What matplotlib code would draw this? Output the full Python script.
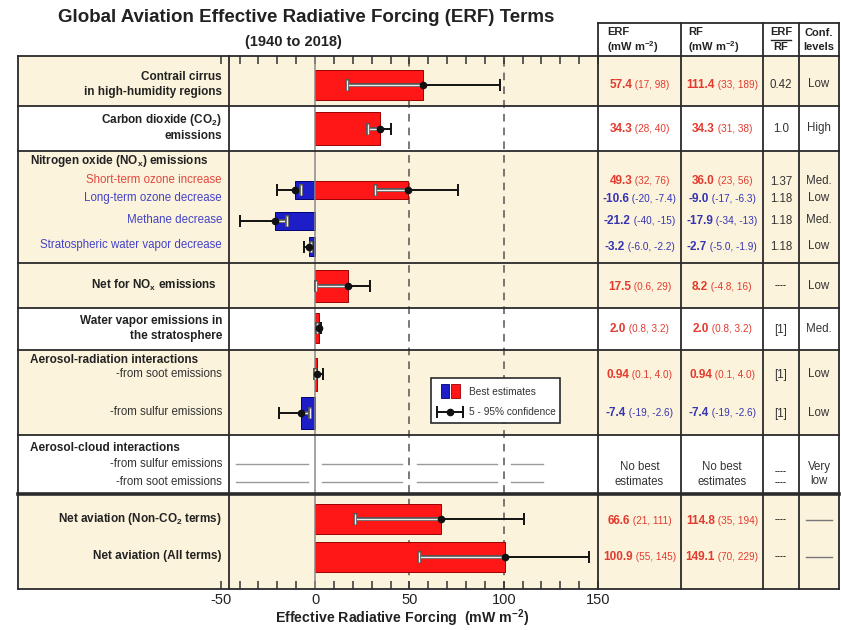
import matplotlib
matplotlib.use("Agg")
import matplotlib.pyplot as plt
from matplotlib.patches import Rectangle

plt.rcParams["font.family"] = "Liberation Sans"
plt.rcParams["mathtext.fontset"] = "custom"
plt.rcParams["mathtext.rm"] = "Liberation Sans"
plt.rcParams["mathtext.bf"] = "Liberation Sans:bold"
plt.rcParams["mathtext.it"] = "Liberation Sans:italic"
plt.rcParams["axes.unicode_minus"] = False

# --- data (mW m-2), best estimate with 5-95% range, as printed ---
terms = ["Contrail cirrus", "CO2", "Short-term ozone", "Long-term ozone", "Methane",
         "Strat. water vapor (NOx)", "Net NOx", "Water vapor", "Soot", "Sulfur",
         "Net non-CO2", "Net all"]
erf = ["57.4", "34.3", "49.3", "-10.6", "-21.2", "-3.2", "17.5", "2.0", "0.94", "-7.4", "66.6", "100.9"]
erf_lo = ["17", "28", "32", "-20", "-40", "-6.0", "0.6", "0.8", "0.1", "-19", "21", "55"]
erf_hi = ["98", "40", "76", "-7.4", "-15", "-2.2", "29", "3.2", "4.0", "-2.6", "111", "145"]
rf = ["111.4", "34.3", "36.0", "-9.0", "-17.9", "-2.7", "8.2", "2.0", "0.94", "-7.4", "114.8", "149.1"]
rf_lo = ["33", "31", "23", "-17", "-34", "-5.0", "-4.8", "0.8", "0.1", "-19", "35", "70"]
rf_hi = ["189", "38", "56", "-6.3", "-13", "-1.9", "16", "3.2", "4.0", "-2.6", "194", "229"]
ratio = ["0.42", "1.0", "1.37", "1.18", "1.18", "1.18", "----", "[1]", "[1]", "[1]", "----", "----"]
conf = ["Low", "High", "Med.", "Low", "Med.", "Low", "Low", "Med.", "Low", "Low", None, None]
no_estimate_span = (-42, 121)   # aerosol-cloud: no best estimates

# --- layout in figure pixels (y measured from top) ---
W, H = 841, 630
bar_y = [85, 128.5, 190, 190, 221, 246.5, 286, 328, 374, 413, 519, 557]
bar_h = [30, 33, 18, 18, 18, 19, 32, 30, 33, 32, 30, 30]
text_y = [84, 128, 181, 198, 220, 246, 286, 329, 374, 413, 520, 557]
row_edges = [55.5, 106, 151, 263, 307.5, 350, 435, 494, 589]
row_fill = ["cream", "white", "cream", "cream", "white", "cream", "white", "cream"]
col_x = [598, 681, 763, 799, 839]
left_x, split_x = 18, 229
cream = "#FCF3DC"
red, blue = "#FF1616", "#1E1EC8"
red_txt, blue_txt = "#E23A2E", "#3434B4"
ink = "#222222"

fig = plt.figure(figsize=(W / 100, H / 100), dpi=100)

bg = fig.add_axes([0, 0, 1, 1], zorder=0)
bg.set_xlim(0, W)
bg.set_ylim(H, 0)
bg.axis("off")

top, bottom = row_edges[0], row_edges[-1]
ax = fig.add_axes([left_x / W, (H - bottom) / H, (col_x[0] - left_x) / W, (bottom - top) / H], zorder=1)
ax.patch.set_alpha(0)
ax.set_xlim(-157.5, 150)
ax.set_ylim(bottom, top)

fg = fig.add_axes([0, 0, 1, 1], zorder=2)
fg.set_xlim(0, W)
fg.set_ylim(H, 0)
fg.axis("off")

# row backgrounds
for y0, y1, f in zip(row_edges[:-1], row_edges[1:], row_fill):
    if f == "cream":
        bg.add_patch(Rectangle((left_x, y0), col_x[-1] - left_x, y1 - y0, color=cream, lw=0))

# gridlines
ax.axvline(50, color="#555555", lw=1.1, ls=(0, (5, 4)), zorder=0.5)
ax.axvline(100, color="#555555", lw=1.1, ls=(0, (5, 4)), zorder=0.5)
ax.axvline(0, color="#8a8a8a", lw=1.1, zorder=3)

# bars
vals = [float(v) for v in erf]
ax.barh(bar_y, vals, height=bar_h, color=[red if v > 0 else blue for v in vals],
        edgecolor=["#9a0000" if v > 0 else "#000070" for v in vals], lw=0.7, zorder=2)


def draw_ci(y, best, lo, hi):
    a, b = sorted((0.0, best))
    in_lo, in_hi = max(lo, a), min(hi, b)
    for s0, s1 in [(lo, in_lo), (in_hi, hi)]:
        if s1 > s0:
            ax.plot([s0, s1], [y, y], color="#111111", lw=1.4, zorder=5, solid_capstyle="butt")
    if in_hi > in_lo:
        ax.plot([in_lo, in_hi], [y, y], color="#555555", lw=2.8, zorder=5, solid_capstyle="butt")
        ax.plot([in_lo, in_hi], [y, y], color="#eeeeee", lw=1.0, zorder=5.1, solid_capstyle="butt")
    for end in (lo, hi):
        if a < end < b:
            ax.plot([end], [y], marker="|", ms=9, mew=2.8, color="#555555", zorder=5.2)
            ax.plot([end], [y], marker="|", ms=7.5, mew=1.0, color="#eeeeee", zorder=5.3)
        else:
            ax.plot([end], [y], marker="|", ms=9, mew=1.4, color="#111111", zorder=5.2)
    ax.plot([best], [y], marker="o", ms=4.5, color="#111111", zorder=6)


for y, v, lo, hi in zip(bar_y, erf, erf_lo, erf_hi):
    draw_ci(y, float(v), float(lo), float(hi))

# aerosol-cloud: dashed guide broken at the gridlines
gap = 3.8
cuts = [no_estimate_span[0]]
for g in (0, 50, 100):
    cuts += [g - gap, g + gap]
cuts.append(no_estimate_span[1])
for yy in (464, 482):
    for s0, s1 in zip(cuts[0::2], cuts[1::2]):
        ax.plot([s0, s1], [yy, yy], color="#9a9a9a", lw=1.0, zorder=1)

# axis ticks
for s in ax.spines.values():
    s.set_visible(False)
ax.set_yticks([])
ax.set_xticks([-50, 0, 50, 100, 150])
ax.set_xticks(range(-50, 151, 10), minor=True)
ax.tick_params(axis="x", which="both", direction="in", top=True, bottom=True,
               length=6, width=1.1, color="#333333", labelsize=10.5, pad=3, labelcolor=ink)

# frame and table lines
lc, lw = "#2a2a2a", 1.3
for y in row_edges:
    fg.plot([left_x, col_x[-1]], [y, y], color=lc, lw=2.6 if y == 494 else lw)
for x in [left_x, split_x] + col_x:
    fg.plot([x, x], [top, bottom], color=lc, lw=lw)
header_top = 23
fg.plot([col_x[0], col_x[-1]], [header_top, header_top], color=lc, lw=lw)
for x in col_x:
    fg.plot([x, x], [header_top, top], color=lc, lw=lw)

# titles
fg.text(306, 18, "Global Aviation Effective Radiative Forcing (ERF) Terms", ha="center", va="center",
        size=13.5, weight="bold", color=ink)
fg.text(293, 42, "(1940 to 2018)", ha="center", va="center", size=10.5, weight="bold", color=ink)
fg.text(402, 618, r"Effective Radiative Forcing  (mW m$^{\mathbf{-2}}$)", ha="center", va="center",
        size=10.2, weight="bold", color=ink)

# table header
hs = 8
fg.text(607, 32, "ERF", size=hs, weight="bold", va="center", color=ink)
fg.text(607, 47, r"(mW m$^{\mathbf{-2}}$)", size=hs, weight="bold", va="center", color=ink)
fg.text(688, 32, "RF", size=hs, weight="bold", va="center", color=ink)
fg.text(688, 47, r"(mW m$^{\mathbf{-2}}$)", size=hs, weight="bold", va="center", color=ink)
fg.text(781, 32, "ERF", size=hs, weight="bold", ha="center", va="center", color=ink)
fg.plot([771, 791], [39.5, 39.5], color=ink, lw=1)
fg.text(781, 47, "RF", size=hs, weight="bold", ha="center", va="center", color=ink)
fg.text(819, 33, "Conf.", size=hs, weight="bold", ha="center", va="center", color=ink)
fg.text(819, 47, "levels", size=hs, weight="bold", ha="center", va="center", color=ink)

# row labels
lab_x = 222
lab = dict(size=8.5, weight="bold", color=ink, va="center")
sub = dict(size=8.3, va="center")
fg.text(lab_x, 77, "Contrail cirrus", ha="right", **lab)
fg.text(lab_x, 92, "in high-humidity regions", ha="right", **lab)
fg.text(lab_x, 120, r"Carbon dioxide (CO$_\mathbf{2}$)", ha="right", **lab)
fg.text(lab_x, 136, "emissions", ha="right", **lab)
fg.text(30, 161, r"Nitrogen oxide (NO$_\mathbf{x}$) emissions", ha="left", **lab)
nox_labels = ["Short-term ozone increase", "Long-term ozone decrease", "Methane decrease",
              "Stratospheric water vapor decrease"]
nox_label_y = [180, 198, 220, 245]
for name, y, v in zip(nox_labels, nox_label_y, erf[2:6]):
    fg.text(lab_x, y, name, ha="right", color="#E4463E" if float(v) > 0 else "#4242C6", **sub)
fg.text(217, 285, r"Net for NO$_\mathbf{x}$ emissions", ha="right", **lab)
fg.text(lab_x, 321, "Water vapor emissions in", ha="right", **lab)
fg.text(lab_x, 336, "the stratosphere", ha="right", **lab)
fg.text(30, 360, "Aerosol-radiation interactions", ha="left", **lab)
fg.text(lab_x, 374, "-from soot emissions", ha="right", color="#333333", **sub)
fg.text(lab_x, 412, "-from sulfur emissions", ha="right", color="#333333", **sub)
fg.text(30, 448, "Aerosol-cloud interactions", ha="left", **lab)
fg.text(lab_x, 464, "-from sulfur emissions", ha="right", color="#333333", **sub)
fg.text(lab_x, 482, "-from soot emissions", ha="right", color="#333333", **sub)
fg.text(lab_x, 519, r"Net aviation (Non-CO$_\mathbf{2}$ terms)", ha="right", **lab)
fg.text(lab_x, 556, "Net aviation (All terms)", ha="right", **lab)

# table values
renderer = fig.canvas.get_renderer()


def value_pair(xc, y, best, lo, hi):
    color = red_txt if float(best) > 0 else blue_txt
    t1 = fg.text(0, y + 3.5, best, size=8.5, weight="bold", color=color, va="baseline")
    t2 = fg.text(0, y + 3.5, f" ({lo}, {hi})", size=7.2, color=color, va="baseline")
    w1 = t1.get_window_extent(renderer).width
    w2 = t2.get_window_extent(renderer).width
    x = xc - (w1 + w2) / 2
    t1.set_x(x)
    t2.set_x(x + w1)


c_erf = (col_x[0] + col_x[1]) / 2
c_rf = (col_x[1] + col_x[2]) / 2
c_ratio = (col_x[2] + col_x[3]) / 2
c_conf = (col_x[3] + col_x[4]) / 2
for i, y in enumerate(text_y):
    value_pair(c_erf, y, erf[i], erf_lo[i], erf_hi[i])
    value_pair(c_rf, y, rf[i], rf_lo[i], rf_hi[i])
    if ratio[i] == "----":
        fg.text(c_ratio, y, ratio[i], size=6.5, weight="bold", ha="center", va="center", color=ink)
    else:
        fg.text(c_ratio, y + 1, ratio[i], size=8.3, ha="center", va="center", color="#333333")
    if conf[i]:
        fg.text(c_conf, y, conf[i], size=8.3, ha="center", va="center", color="#333333")
    else:
        fg.plot([806, 832], [y, y], color="#777777", lw=1)

# aerosol-cloud row
for xc in (c_erf, c_rf):
    fg.text(xc, 467, "No best", size=8.3, ha="center", va="center", color="#333333")
    fg.text(xc, 482, "estimates", size=8.3, ha="center", va="center", color="#333333")
for y in (472, 483):
    fg.text(c_ratio, y, "----", size=6.5, weight="bold", ha="center", va="center", color=ink)
fg.text(c_conf, 467, "Very", size=8.3, ha="center", va="center", color="#333333")
fg.text(c_conf, 481, "low", size=8.3, ha="center", va="center", color="#333333")

# legend
fg.add_patch(Rectangle((431, 378), 129, 45, fc="white", ec="#2a2a2a", lw=1.2, zorder=3))
fg.add_patch(Rectangle((441, 384), 8, 14, fc=blue, ec="#000070", lw=0.6, zorder=4))
fg.add_patch(Rectangle((451, 384), 9, 14, fc=red, ec="#9a0000", lw=0.6, zorder=4))
fg.text(469, 392, "Best estimates", size=7.3, va="center", color="#333333", zorder=4)
fg.plot([437, 463], [412, 412], color="#111111", lw=1.4, zorder=4)
fg.plot([437, 463], [412, 412], ls="none", marker="|", ms=9, mew=1.4, color="#111111", zorder=4)
fg.plot([450], [412], marker="o", ms=4.5, color="#111111", zorder=4)
fg.text(469, 412, "5 - 95% confidence", size=7.3, va="center", color="#333333", zorder=4)

fig.savefig("out.png", dpi=100)
